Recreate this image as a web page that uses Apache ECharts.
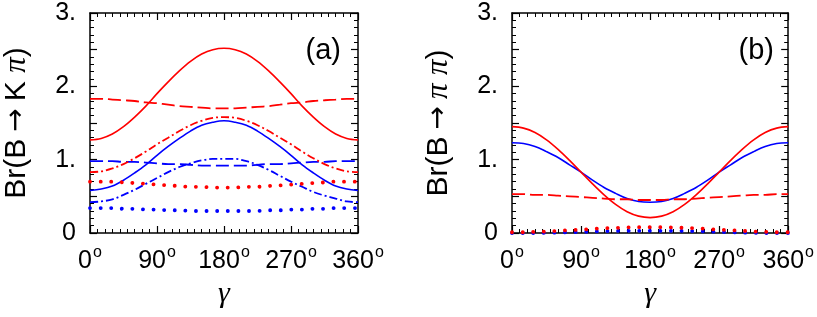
<!DOCTYPE html>
<html><head><meta charset="utf-8">
<script src="https://cdn.jsdelivr.net/npm/echarts@6/dist/echarts.min.js"></script>
<style>html,body{margin:0;padding:0;background:#fff}#c{width:817px;height:317px}</style>
</head><body><div id="c"></div>
<script>
// gamma in degrees
const gamma = [0,15,30,45,60,75,90,105,120,135,150,165,180,195,210,225,240,255,270,285,300,315,330,345,360];
const xTicks = [0,90,180,270,360];
const yTickLabels = {0:'0',1:'1.',2:'2.',3:'3.'};

// Panel (a): Br(B -> K pi)
const aRedSolid   = [1.27,1.29,1.35,1.45,1.58,1.73,1.90,2.06,2.21,2.34,2.44,2.50,2.52,2.50,2.44,2.34,2.21,2.06,1.90,1.73,1.58,1.45,1.35,1.29,1.27];
const aRedDash    = [1.83,1.83,1.82,1.81,1.80,1.78,1.77,1.75,1.73,1.72,1.71,1.70,1.70,1.70,1.71,1.72,1.73,1.75,1.77,1.78,1.80,1.81,1.82,1.83,1.83];
const aRedDashDot = [0.83,0.84,0.88,0.94,1.02,1.11,1.21,1.30,1.39,1.47,1.53,1.57,1.58,1.57,1.53,1.47,1.39,1.30,1.21,1.11,1.02,0.94,0.88,0.84,0.83];
const aRedDot     = [0.70,0.70,0.70,0.69,0.68,0.67,0.66,0.65,0.64,0.63,0.63,0.62,0.62,0.62,0.63,0.63,0.64,0.65,0.66,0.67,0.68,0.69,0.70,0.70,0.70];
const aBlueSolid  = [0.58,0.60,0.64,0.72,0.82,0.93,1.06,1.18,1.29,1.39,1.47,1.51,1.53,1.51,1.47,1.39,1.29,1.18,1.06,0.93,0.82,0.72,0.64,0.60,0.58];
const aBlueDash   = [0.98,0.98,0.98,0.97,0.97,0.96,0.95,0.94,0.94,0.93,0.92,0.92,0.92,0.92,0.92,0.93,0.94,0.94,0.95,0.96,0.97,0.97,0.98,0.98,0.98];
const aBlueDashDot= [0.42,0.43,0.46,0.52,0.59,0.67,0.75,0.83,0.90,0.95,0.99,1.01,1.01,1.01,0.98,0.93,0.86,0.78,0.70,0.63,0.56,0.51,0.47,0.43,0.42];
const aBlueDot    = [0.34,0.34,0.34,0.33,0.33,0.32,0.32,0.31,0.31,0.30,0.30,0.30,0.30,0.30,0.30,0.30,0.31,0.31,0.32,0.32,0.33,0.33,0.34,0.34,0.34];

// Panel (b): Br(B -> pi pi)
const bRedSolid   = [1.45,1.43,1.37,1.27,1.14,0.99,0.83,0.67,0.52,0.39,0.29,0.23,0.21,0.23,0.29,0.39,0.52,0.67,0.83,0.99,1.14,1.27,1.37,1.43,1.45];
const bBlueSolid  = [1.23,1.22,1.18,1.11,1.03,0.93,0.83,0.72,0.62,0.54,0.47,0.43,0.42,0.43,0.47,0.54,0.62,0.72,0.83,0.93,1.03,1.11,1.18,1.22,1.23];
const bRedDash    = [0.53,0.53,0.52,0.52,0.51,0.50,0.49,0.48,0.47,0.46,0.46,0.45,0.45,0.45,0.46,0.46,0.47,0.48,0.49,0.50,0.51,0.52,0.52,0.53,0.53];
const bRedDot     = [0.010,0.010,0.015,0.020,0.030,0.040,0.045,0.055,0.065,0.070,0.075,0.080,0.080,0.080,0.075,0.070,0.065,0.055,0.045,0.040,0.030,0.020,0.015,0.010,0.010];
const bBlueDot    = [0.000,0.000,0.000,0.002,0.005,0.010,0.015,0.020,0.025,0.028,0.030,0.030,0.030,0.030,0.030,0.028,0.025,0.020,0.015,0.010,0.005,0.002,0.000,0.000,0.000];

const RED = '#ff0000', BLUE = '#0000ff';
const FONT = 'Liberation Sans';
const zip = arr => gamma.map((g,i)=>[g,arr[i]]);

const styles = {
  solid:   {type:'solid', width:1.6},
  dash:    {type:[13,5], width:1.8},
  dashdot: {type:[8,3,2,3], width:1.8},
  dot:     {type:[0.1,10.5], width:3.8, cap:'round'}
};

function xAx(grid, top){
  return {
    type:'value', gridIndex:grid, min:0, max:360, interval:90, position: top?'top':'bottom',
    axisLine:{show:true, onZero:false, lineStyle:{color:'#000', width:1.5}},
    axisTick:{show:true, inside:true, length:7, lineStyle:{color:'#000', width:1.2}},
    minorTick:{show:true, splitNumber:9, length:4, lineStyle:{color:'#000', width:1}},
    splitLine:{show:false},
    axisLabel:{show:!top, margin:12, fontFamily:FONT, fontSize:25, color:'#000',
      formatter: v => xTicks.includes(v) ? '{n|'+v+'}{s|o}' : '',
      rich:{n:{fontFamily:FONT, fontSize:25, color:'#000'}, s:{fontFamily:FONT, fontSize:16, color:'#000', padding:[0,0,17,1]}}},
    name: top ? '' : 'γ', nameLocation:'middle', nameGap:44,
    nameTextStyle:{fontFamily:'Liberation Serif', fontStyle:'italic', fontSize:30, color:'#000'}
  };
}
function yAx(grid, right, title){
  return {
    type:'value', gridIndex:grid, min:0, max:3, interval:0.5, position: right?'right':'left',
    axisLine:{show:true, onZero:false, lineStyle:{color:'#000', width:1.5}},
    axisTick:{show:true, inside:true, length:7, lineStyle:{color:'#000', width:1.2}},
    minorTick:{show:true, splitNumber:5, length:4, lineStyle:{color:'#000', width:1}},
    splitLine:{show:false},
    axisLabel:{show:!right, margin:14, fontFamily:FONT, fontSize:25, color:'#000',
      formatter: v => (yTickLabels[v] !== undefined ? yTickLabels[v] : '')},
    name: right ? '' : title, nameLocation:'middle', nameGap:58, nameRotate:90,
    nameTextStyle:{fontFamily:FONT, fontSize:30, color:'#000',
      rich:{t:{fontFamily:FONT, fontSize:30, color:'#000'},
            ar:{fontFamily:'DejaVu Sans', fontSize:28, color:'#000', padding:[0,7,0,7]},
            p:{fontFamily:'Liberation Serif', fontStyle:'italic', fontSize:31, color:'#000'}}}
  };
}
function ser(xi, yi, data, color, st, z){
  return {type:'line', xAxisIndex:xi, yAxisIndex:yi, data:zip(data), smooth:0.35, symbol:'none',
    lineStyle:Object.assign({color:color}, st), z:z||2, silent:true, animation:false, clip:true};
}

const chart = echarts.init(document.getElementById('c'), null, {renderer:'canvas'});
chart.setOption({
  animation:false,
  backgroundColor:'#fff',
  grid:[
    {left:79, right:459, top:13, bottom:84},
    {left:512, right:26, top:13, bottom:84}
  ],
  xAxis:[xAx(0,false), xAx(0,true), xAx(1,false), xAx(1,true)],
  yAxis:[yAx(0,false,'{t|Br(B}{ar|→}{t|K }{p|π}{t|)}'), yAx(0,true), yAx(1,false,'{t|Br(B}{ar|→}{p|π}{t| }{p|π}{t|)}'), yAx(1,true)],
  graphic:[
    {type:'text', right:817-341, top:36, style:{text:'(a)', fontFamily:FONT, fontSize:29, fill:'#000'}},
    {type:'text', right:817-774, top:36, style:{text:'(b)', fontFamily:FONT, fontSize:29, fill:'#000'}}
  ],
  series:[
    ser(0,0,aBlueDot,BLUE,styles.dot),
    ser(0,0,aBlueDashDot,BLUE,styles.dashdot),
    ser(0,0,aBlueDash,BLUE,styles.dash),
    ser(0,0,aBlueSolid,BLUE,styles.solid),
    ser(0,0,aRedDot,RED,styles.dot),
    ser(0,0,aRedDashDot,RED,styles.dashdot),
    ser(0,0,aRedDash,RED,styles.dash),
    ser(0,0,aRedSolid,RED,styles.solid),
    ser(2,2,bBlueDot,BLUE,styles.dot),
    ser(2,2,bRedDot,RED,styles.dot),
    ser(2,2,bBlueSolid,BLUE,styles.solid),
    ser(2,2,bRedDash,RED,styles.dash),
    ser(2,2,bRedSolid,RED,styles.solid)
  ]
});
</script></body></html>
